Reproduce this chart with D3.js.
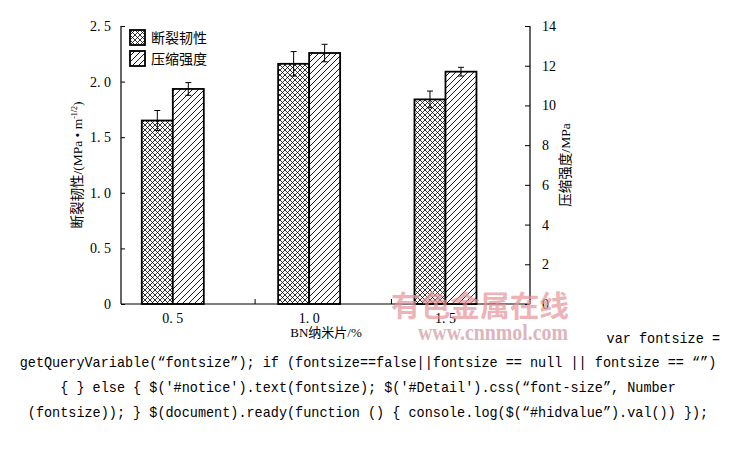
<!DOCTYPE html>
<html><head><meta charset="utf-8">
<script src="https://cdn.jsdelivr.net/npm/d3@7"></script>
<style>html,body{margin:0;padding:0;background:#fff;}svg{display:block;}</style>
</head><body>
<script>
const categories = [0.5, 1.0, 1.5];
const categoryLabels = ["0. 5", "1. 0", "1. 5"];
const toughness = [1.65, 2.16, 1.84];
const toughnessErr = [0.09, 0.11, 0.075];
const strength = [10.83, 12.64, 11.70];
const strengthErr = [0.32, 0.44, 0.22];
const leftTicks = [0, 0.5, 1.0, 1.5, 2.0, 2.5];
const leftTickLabels = ["0", "0. 5", "1. 0", "1. 5", "2. 0", "2. 5"];
const rightTicks = [0, 2, 4, 6, 8, 10, 12, 14];
const xMinorTicks = [0.8, 1.3];
const seriesNames = ["断裂韧性", "压缩强度"];
const codeLines = [
  "var fontsize =",
  "getQueryVariable(“fontsize”); if (fontsize==false||fontsize == null || fontsize == “”)",
  "{ } else { $('#notice').text(fontsize); $('#Detail').css(“font-size”, Number",
  "(fontsize)); } $(document).ready(function () { console.log($(“#hidvalue”).val()) });"
];

const W = 730, H = 463;
const svg = d3.select("body").append("svg").attr("width", W).attr("height", H);
const serif = "'Liberation Serif','Times New Roman',serif";
const cjk = "'Liberation Serif','Noto Sans CJK SC',serif";

const defs = svg.append("defs");
const cross = defs.append("pattern").attr("id", "cross").attr("patternUnits", "userSpaceOnUse")
  .attr("width", 5).attr("height", 5);
cross.append("rect").attr("width", 5).attr("height", 5).attr("fill", "#fff");
cross.append("path").attr("d", "M0,0L5,5M5,0L0,5M-1,4L1,6M4,-1L6,1M-1,1L1,-1M4,6L6,4")
  .attr("stroke", "#000").attr("stroke-width", 0.8);
const hatch = defs.append("pattern").attr("id", "hatch").attr("patternUnits", "userSpaceOnUse")
  .attr("width", 6).attr("height", 6);
hatch.append("rect").attr("width", 6).attr("height", 6).attr("fill", "#fff");
hatch.append("path").attr("d", "M0,6L6,0M-1,1L1,-1M5,7L7,5")
  .attr("stroke", "#000").attr("stroke-width", 0.9);

const x = d3.scaleLinear().domain([0.31, 1.81]).range([121, 530]);
const yL = d3.scaleLinear().domain([0, 2.5]).range([304, 26]);
const yR = d3.scaleLinear().domain([0, 14]).range([304, 26]);
const bw = 31;

const g = svg.append("g");

// bars
const bars = g.append("g");
categories.forEach((c, i) => {
  const cx = x(c);
  bars.append("rect").attr("x", cx - bw).attr("y", yL(toughness[i])).attr("width", bw)
    .attr("height", yL(0) - yL(toughness[i])).attr("fill", "url(#cross)")
    .attr("stroke", "#000").attr("stroke-width", 1.8);
  bars.append("rect").attr("x", cx).attr("y", yR(strength[i])).attr("width", bw)
    .attr("height", yR(0) - yR(strength[i])).attr("fill", "url(#hatch)")
    .attr("stroke", "#000").attr("stroke-width", 1.8);
  const eb = (ex, y1, y2) => {
    bars.append("line").attr("x1", ex).attr("x2", ex).attr("y1", y1).attr("y2", y2).attr("stroke", "#000").attr("stroke-width", 1);
    [y1, y2].forEach(yy => bars.append("line").attr("x1", ex - 3).attr("x2", ex + 3).attr("y1", yy).attr("y2", yy).attr("stroke", "#000").attr("stroke-width", 1));
  };
  eb(cx - bw / 2, yL(toughness[i] + toughnessErr[i]), yL(toughness[i] - toughnessErr[i]));
  eb(cx + bw / 2, yR(strength[i] + strengthErr[i]), yR(strength[i] - strengthErr[i]));
});

// axes
const axL = d3.axisLeft(yL).tickValues(leftTicks).tickSize(-4).tickPadding(10)
  .tickFormat((d, i) => leftTickLabels[i]);
const gl = svg.append("g").attr("transform", "translate(121,0)").call(axL);
const axR = d3.axisRight(yR).tickValues(rightTicks).tickSize(-5).tickPadding(12);
const gr = svg.append("g").attr("transform", "translate(530,0)").call(axR);
const axB = d3.axisBottom(x).tickValues(xMinorTicks).tickSize(-5).tickFormat("");
const gb = svg.append("g").attr("transform", "translate(0,304)").call(axB);
[gl, gr, gb].forEach(a => {
  a.select(".domain").attr("stroke", "#000").attr("stroke-width", 1.2);
  a.selectAll(".tick line").attr("stroke", "#000").attr("stroke-width", 1);
  a.selectAll("text").attr("font-family", serif).attr("font-size", 14).attr("fill", "#000");
});
gl.select(".domain").attr("d", "M0,304V26");
gr.select(".domain").attr("d", "M0,304V26");
gb.select(".domain").attr("d", "M121,0H530");

// category labels
svg.append("g").selectAll("text").data(categories).join("text")
  .attr("x", d => x(d)).attr("y", 323).attr("text-anchor", "middle")
  .attr("font-family", serif).attr("font-size", 14).text((d, i) => categoryLabels[i]);

// axis titles
svg.append("text").attr("x", 326).attr("y", 337).attr("text-anchor", "middle")
  .attr("font-family", cjk).attr("font-size", 13).text("BN纳米片/%");
const lt = svg.append("text").attr("transform", "translate(82,165) rotate(-90)")
  .attr("text-anchor", "middle").attr("font-family", cjk).attr("font-size", 13.5);
lt.append("tspan").text("断裂韧性/(MPa • m");
lt.append("tspan").attr("dy", -5).attr("font-size", 8).text("-1/2");
lt.append("tspan").attr("dy", 5).text(")");
svg.append("text").attr("transform", "translate(570,165) rotate(-90)")
  .attr("text-anchor", "middle").attr("font-family", cjk).attr("font-size", 13.5).text("压缩强度/MPa");

// legend
const lg = svg.append("g");
["url(#cross)", "url(#hatch)"].forEach((f, i) => {
  lg.append("rect").attr("x", 130).attr("y", 30 + i * 21).attr("width", 15).attr("height", 15)
    .attr("fill", f).attr("stroke", "#000").attr("stroke-width", 1.8);
  lg.append("text").attr("x", 151).attr("y", 43 + i * 21).attr("font-family", cjk)
    .attr("font-size", 14).text(seriesNames[i]);
});

// watermark
svg.append("text").attr("x", 391).attr("y", 317).attr("font-family", "'Noto Sans CJK SC',sans-serif")
  .attr("font-weight", "bold")
  .attr("font-size", 29).attr("fill", "#e79498").attr("opacity", 0.7).attr("textLength", 178)
  .attr("lengthAdjust", "spacingAndGlyphs").text("有色金属在线");
svg.append("text").attr("x", 418).attr("y", 340).attr("font-family", serif).attr("font-weight", "bold")
  .attr("font-size", 23).attr("fill", "#d8a9ae").attr("opacity", 0.85).attr("textLength", 150)
  .attr("lengthAdjust", "spacingAndGlyphs").text("www.cnnmol.com");

// code text
const mono = "'Liberation Mono','DejaVu Sans Mono',monospace";
const cw = 8.1;
svg.append("text").attr("x", 720).attr("y", 343).attr("text-anchor", "end").attr("font-family", mono)
  .attr("font-size", 15).attr("textLength", codeLines[0].length * cw).attr("lengthAdjust", "spacingAndGlyphs")
  .text(codeLines[0]);
codeLines.slice(1).forEach((t, i) => {
  svg.append("text").attr("x", 368).attr("y", 367 + i * 25).attr("text-anchor", "middle").attr("font-family", mono)
    .attr("font-size", 15).attr("textLength", t.length * cw).attr("lengthAdjust", "spacingAndGlyphs").text(t);
});
</script>
</body></html>
